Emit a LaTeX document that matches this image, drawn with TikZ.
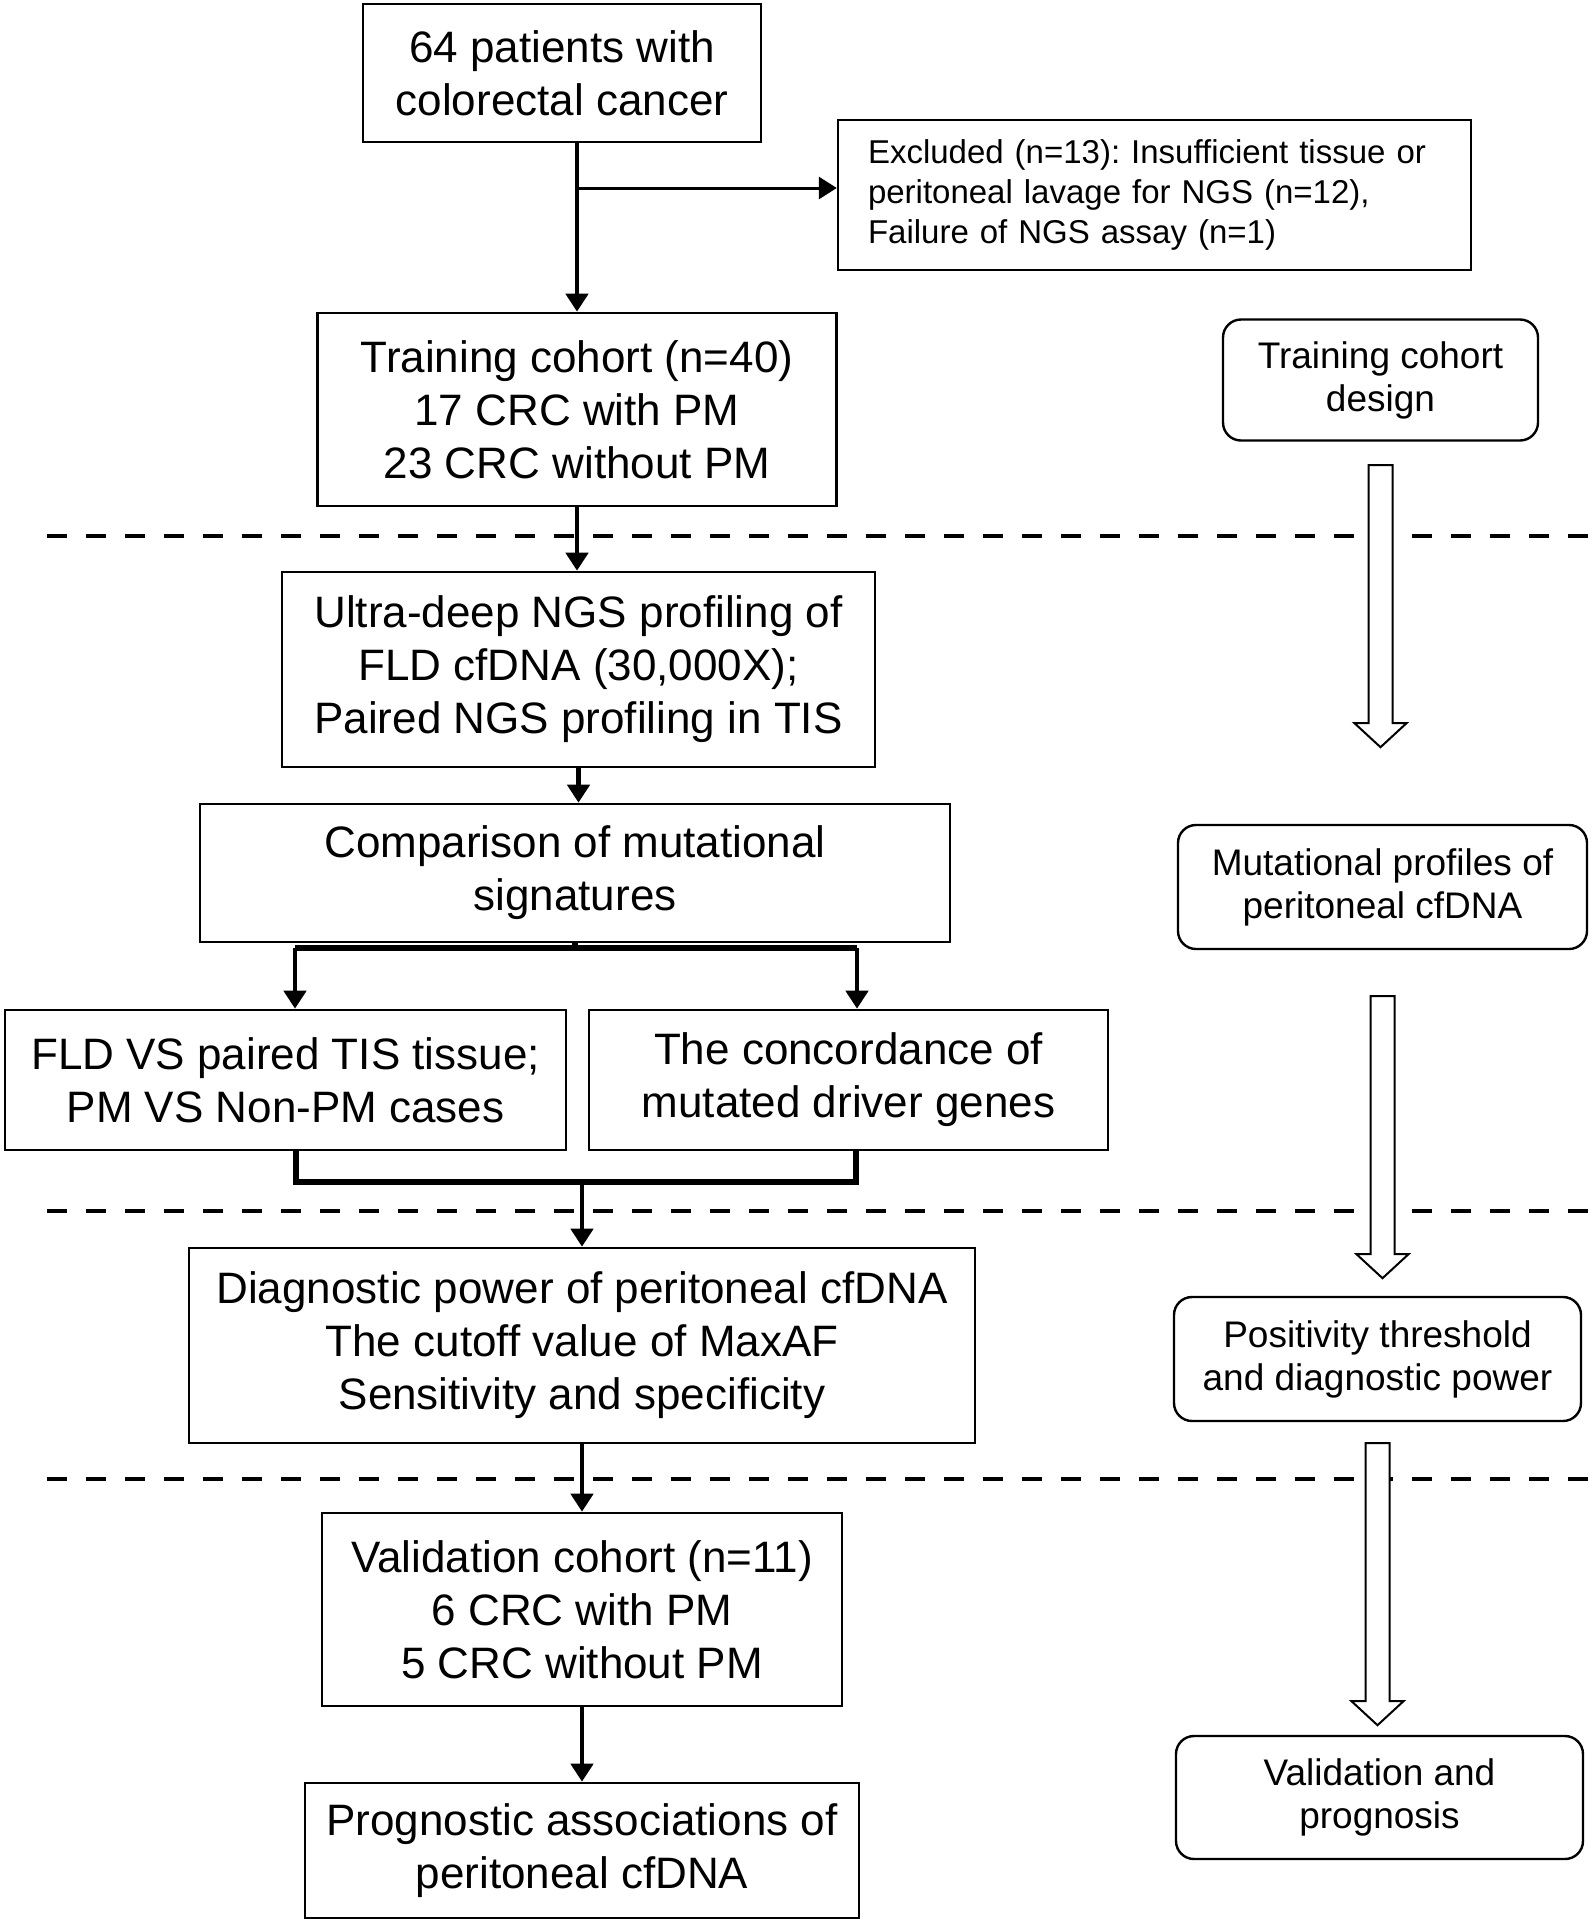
\documentclass[tikz,border=0pt]{standalone}
\usepackage{fontspec}
\setmainfont{Liberation Sans}
\frenchspacing
\usetikzlibrary{positioning, arrows.meta}

\newcommand{\hollowarrow}[1]{%
  \draw[hollow] (#1) ++(-12,0) -- ++(24,0) -- ++(0,258) -- ++(14,0)
    -- ++(-26,24) -- ++(-26,-24) -- ++(14,0) -- cycle;}

\begin{document}
\begin{tikzpicture}
        [ x=0.5pt, y=-0.5pt
        , box/.style={draw, line width=1.3pt, align=center, inner sep=0pt,
                      font=\fontsize{22}{26.5}\selectfont}
        , excl/.style={draw, line width=1.2pt, align=left, inner xsep=15pt,
                       text width=286.5pt, minimum height=75pt,
                       font=\fontsize{16.5}{20}\selectfont}
        , side/.style={draw, line width=1.2pt, rounded corners=9pt, align=center,
                       inner sep=0pt, font=\fontsize{18.5}{21.5}\selectfont}
        , flow/.style={-{Triangle[width=11pt,length=9pt]}, line width=2.3pt}
        , thinflow/.style={flow, line width=1.5pt}
        , bar/.style={line width=2.8pt}
        , sep/.style={line width=2.2pt, dash pattern=on 10pt off 9.5pt}
        , hollow/.style={line width=1pt, fill=white, line join=miter}
        ]
        \useasboundingbox (0,0) rectangle (1594,1924);

        % main column
        \node (pat) [box, minimum width=199pt, minimum height=69pt] at (562,73)
            {64 patients with\\colorectal cancer};
        \node (exc) [excl] at (1154.5,195)
            {Excluded (n=13): Insufficient tissue or\\peritoneal lavage for NGS (n=12),\\Failure of NGS assay (n=1)};
        \node (train) [box, minimum width=259.5pt, minimum height=96.5pt] at (577,409.5)
            {Training cohort (n=40)\\17 CRC with PM\\23 CRC without PM};
        \node (ngs) [box, minimum width=296.5pt, minimum height=97.5pt] at (578.5,669.5)
            {Ultra-deep NGS profiling of\\FLD cfDNA (30,000X);\\Paired NGS profiling in TIS};
        \node (comp) [box, minimum width=375pt, minimum height=69pt] at (575,873)
            {Comparison of mutational\\signatures};
        \node (fld) [box, minimum width=280.5pt, minimum height=70pt] at (285.5,1080)
            {FLD VS paired TIS tissue;\\PM VS Non-PM cases};
        \node (conc) [box, minimum width=259.5pt, minimum height=70pt] at (848.5,1080)
            {The concordance of\\mutated driver genes};
        \node (diag) [box, minimum width=393pt, minimum height=97.5pt] at (582,1345.5)
            {Diagnostic power of peritoneal cfDNA\\The cutoff value of MaxAF\\Sensitivity and specificity};
        \node (valid) [box, minimum width=260pt, minimum height=96.5pt] at (582,1609.5)
            {Validation cohort (n=11)\\6 CRC with PM\\5 CRC without PM};
        \node (prog) [box, minimum width=277pt, minimum height=67.5pt] at (582,1850.5)
            {Prognostic associations of\\peritoneal cfDNA};

        % right column
        \node (design) [side, minimum width=157.5pt, minimum height=60.5pt] at (1380.5,380)
            {Training cohort\\design};
        \node (mprof) [side, minimum width=204.5pt, minimum height=62pt] at (1382.5,887)
            {Mutational profiles of\\peritoneal cfDNA};
        \node (thres) [side, minimum width=203.5pt, minimum height=62pt] at (1377.5,1359)
            {Positivity threshold\\and diagnostic power};
        \node (vp) [side, minimum width=203.5pt, minimum height=61.5pt] at (1379.5,1797.5)
            {Validation and\\prognosis};

        \foreach \y in {536,1211,1479}
            \draw[sep] (47,\y) -- (1594,\y);

        \node (designa) [coordinate, below=11.75pt of design] {};
        \node (mprofa) [coordinate, below=23pt of mprof] {};
        \node (thresa) [coordinate, below=10.5pt of thres] {};
        \hollowarrow{designa}
        \hollowarrow{mprofa}
        \hollowarrow{thresa}

        % connectors
        \node (br) [coordinate] at (577,188) {};
        \draw[flow] (pat.south -| br) -- (br |- train.north);
        \draw[thinflow] (br) -- (br -| exc.west);

        \draw[flow] (train.south) -- (train.south |- ngs.north);
        \draw[flow] (ngs.south) -- (ngs.south |- comp.north);

        \node (cl) [coordinate] at (295,948) {};
        \node (cr) [coordinate] at (857,948) {};
        \draw[bar] (comp.south) -- (comp.south |- cl);
        \draw[bar] (cl) -- (cr);
        \draw[flow] (cl) -- (cl |- fld.north);
        \draw[flow] (cr) -- (cr |- conc.north);

        \node (ml) [coordinate] at (296,1182) {};
        \node (mr) [coordinate] at (856,1182) {};
        \draw[bar] (ml |- fld.south) -- (ml) -- (mr) -- (mr |- conc.south);
        \draw[flow] (ml -| diag.north) -- (diag.north);

        \draw[flow] (diag.south) -- (diag.south |- valid.north);
        \draw[flow] (valid.south) -- (valid.south |- prog.north);

    \end{tikzpicture}
\end{document}
